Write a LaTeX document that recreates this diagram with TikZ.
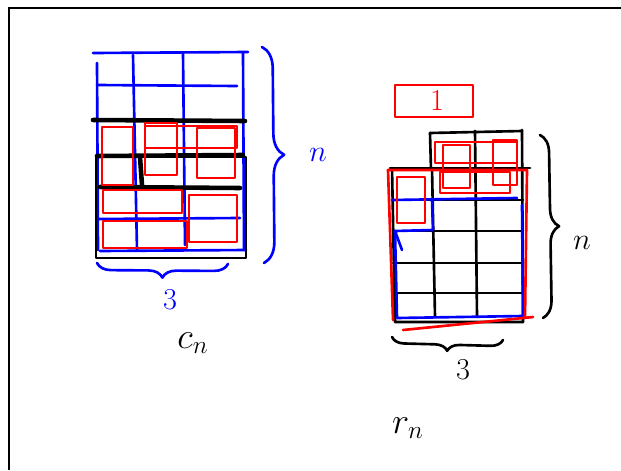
\documentclass[tikz,border=0pt]{standalone}
\usetikzlibrary{decorations.pathreplacing}

\tikzset{
  tratto/.style={line width=1.5pt, line cap=round, line join=round},
  blu/.style={tratto, draw=blue},
  rosso/.style={tratto, draw=red},
  nero/.style={tratto, draw=black},
  spesso/.style={line width=2.6pt, line cap=round, draw=black},
  graffa/.style={decorate, decoration={brace, amplitude=#1}, line width=1.5pt, line cap=round},
  etichetta/.style={inner sep=0pt, font=\LARGE},
}

\begin{document}
\begin{tikzpicture}[x=0.02cm, y=-0.02cm]
			\useasboundingbox (0,0) rectangle (621,470);
			% Cornice
			\draw[line width=1.5pt] (9,470) -- (9,8) -- (621,8);
			
			% Griglia blu a sinistra
			\draw[blu] (93,53) -- (248,52);
			\draw[blu] (97,63) -- (98,250);
			\draw[blu] (133,55) -- (137,250);
			\draw[blu] (183,53) -- (185,245);
			\draw[blu] (243,53) -- (244,250);
			\draw[blu] (97,85) -- (237,86);
			\draw[blu] (97,219) -- (240,218);
			\draw[blu] (100,251) -- (246,250);
			
			% Linee nere
			\draw[spesso] (93,120) -- (245,121);
			\draw[spesso] (97,156) -- (243,155);
			\draw[spesso] (100,187) -- (240,188);
			\draw[spesso] (140,157) -- (142,185);
			\draw[nero] (96,157) rectangle (246,258);
			
			% Rettangoli rossi
			\draw[rosso] (102,127) rectangle (133,185);
			\draw[rosso] (145,123) rectangle (177,175);
			\draw[rosso] (145,126) rectangle (237,148);
			\draw[rosso] (197,128) rectangle (235,178);
			\draw[rosso] (103,190) rectangle (182,213);
			\draw[rosso] (189,195) rectangle (237,242);
			\draw[rosso] (103,221) rectangle (187,248);
			
			% Graffe ed etichette
			\draw[blu, graffa=12pt] (262,47) -- (264,263);
			\draw[blu, graffa=8pt] (228,264) -- (97,263);
			\node[etichetta, text=blue] (nsx) at (318,155) {$n$};
			\node[etichetta, text=blue] (tresx) at (170,300) {$3$};
			\node[etichetta, font=\huge] (cn) at (193,343) {$c_n$};
			
			% Rettangolo rosso in alto a destra
			\draw[rosso] (395,85) rectangle (473,117);
			\node[etichetta, text=red] (uno) at (437,101) {$1$};
			
			% Griglia nera a destra
			\draw[nero] (430,133) -- (522,131);
			\draw[nero] (430,133) -- (431,170);
			\draw[nero] (475,131) -- (477,317);
			\draw[nero] (522,130) -- (523,322);
			\draw[nero] (390,168) -- (530,168);
			\draw[nero] (392,168) -- (395,322) -- (523,322);
			\draw[nero] (432,168) -- (435,317);
			\foreach \y in {200,231,263,293}
				\draw[nero] (393,\y) -- (523,\y);
			
			% Contorno blu
			\draw[blu] (392,200) -- (517,198);
			\draw[blu] (402,250) -- (395,231) -- (433,230) -- (432,200);
			\draw[blu] (395,231) -- (397,318) -- (523,316) -- (522,205);
			
			% Contorni rossi
			\draw[rosso] (388,170) -- (527,170) -- (525,318);
			\draw[rosso] (388,170) -- (393,320);
			\draw[rosso] (403,330) -- (533,317);
			\draw[rosso] (397,177) rectangle (425,223);
			\draw[rosso] (443,145) rectangle (470,188);
			\draw[rosso] (493,140) rectangle (517,185);
			\draw[rosso] (435,142) rectangle (517,163);
			\draw[rosso] (440,172) rectangle (510,193);
			
			% Graffe ed etichette
			\draw[nero, graffa=10pt] (540,135) -- (543,318);
			\draw[nero, graffa=7pt] (503,340) -- (392,337);
			\node[etichetta] (ndx) at (582,243) {$n$};
			\node[etichetta] (tredx) at (463,370) {$3$};
			\node[etichetta, font=\huge] (rn) at (408,428) {$r_n$};
		\end{tikzpicture}
\end{document}
